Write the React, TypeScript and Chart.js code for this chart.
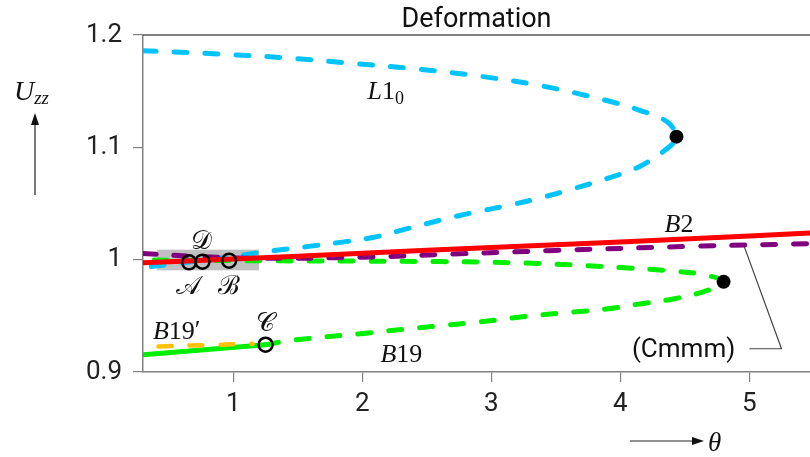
import React, { useEffect, useRef } from "react";
import { Chart, registerables } from "chart.js";

Chart.register(...registerables);

// ---------- data ----------
const chartTitle = "Deformation";
const xTicks = [1, 2, 3, 4, 5];
const yTicks = [0.9, 1, 1.1, 1.2];
const xMin = 0.3;
const xMax = 5.47;
const yMin = 0.9;
const yMax = 1.2;

// L1_0 branch (cyan), traced through its fold
const l10X = [0.3, 0.9, 1.4, 1.9, 2.4, 2.9, 3.4, 3.9, 4.15, 4.36, 4.435, 4.38, 4.15, 3.89, 3.63, 3.38, 3.12, 2.86, 2.6, 2.35, 2.09, 1.83, 1.57, 1.31, 1.0, 0.6, 0.3];
const l10Y = [1.186, 1.183, 1.1797, 1.175, 1.17, 1.1635, 1.1545, 1.1415, 1.133, 1.123, 1.1095, 1.1005, 1.083, 1.072, 1.063, 1.055, 1.048, 1.042, 1.035, 1.0276, 1.02, 1.0154, 1.0116, 1.008, 1.003, 0.997, 0.993];

// B2 (red, solid)
const b2X = [0.3, 1.0, 2.0, 3.0, 4.0, 5.0, 5.47];
const b2Y = [0.9972, 1.0005, 1.0058, 1.0108, 1.0158, 1.021, 1.0238];

// Cmmm (purple, dashed)
const cmmmX = [0.3, 0.7, 1.2, 2.0, 2.7, 3.5, 4.6, 5.47];
const cmmmY = [1.0055, 1.003, 1.0012, 1.0022, 1.005, 1.0082, 1.012, 1.0142];

// B19 stable part (green, solid)
const b19SolidX = [0.3, 0.8, 1.25];
const b19SolidY = [0.9154, 0.92, 0.9243];

// B19 unstable part (green, dashed) through its fold
const b19DashX = [1.25, 1.44, 2.09, 2.6, 2.86, 3.38, 3.89, 4.15, 4.41, 4.67, 4.8, 4.65, 4.4, 4.0, 3.5, 3.0, 2.6, 2.0, 1.3, 0.3];
const b19DashY = [0.9243, 0.928, 0.9353, 0.9412, 0.944, 0.9508, 0.956, 0.9606, 0.965, 0.9724, 0.9804, 0.9865, 0.99, 0.993, 0.996, 0.9977, 0.9983, 0.9987, 0.999, 0.9997];

// B19' (orange, dashed)
const b19pX = [0.42, 0.8, 1.15];
const b19pY = [0.9228, 0.924, 0.9252];

// special states A, D, B, C (open circles)
const stateX = [0.657, 0.761, 0.967, 1.25];
const stateY = [0.9976, 0.9982, 0.9991, 0.9243];

// fold points (filled dots)
const foldX = [4.435, 4.8];
const foldY = [1.1095, 0.9804];

// leader line of the (Cmmm) label
const leaderX = [5.0, 5.249, 4.955];
const leaderY = [0.9207, 0.9207, 1.0134];

// highlighted grey region
const box = { xMin: 0.41, xMax: 1.2, yMin: 0.9905, yMax: 1.0089 };

// ---------- styling ----------
const SANS = "Roboto, 'DejaVu Sans', sans-serif";
const SERIF = "'Liberation Serif', 'DejaVu Serif', serif";

type Part = { t: string; italic?: boolean; size?: number; dy?: number };

const mathLabels: { x: number; y: number; parts: Part[] }[] = [
  { x: 2.04, y: 1.1434, parts: [{ t: "L", italic: true }, { t: "1" }, { t: "0", size: 18, dy: 5 }] },
  { x: 4.343, y: 1.0243, parts: [{ t: "B", italic: true }, { t: "2" }] },
  { x: 2.14, y: 0.9086, parts: [{ t: "B", italic: true }, { t: "19" }] },
  { x: 0.377, y: 0.9297, parts: [{ t: "B", italic: true }, { t: "19" }, { t: "\u2032", dy: -1 }] },
];

const stateLabels = [
  { x: 0.655, y: 0.9697, t: "\u{1D49C}" },
  { x: 0.965, y: 0.9697, t: "\u212C" },
  { x: 1.25, y: 0.9368, t: "\u{1D49E}" },
  { x: 0.756, y: 1.0098, t: "\u{1D49F}" },
];

const cmmmLabel = { x: 4.09, y: 0.919, t: "(Cmmm)" };

const zip = (xs: number[], ys: number[]) => xs.map((x, i) => ({ x, y: ys[i] }));

function fontOf(p: Part) {
  return `${p.italic ? "italic " : ""}${p.size ?? 26}px ${SERIF}`;
}

function drawParts(ctx: CanvasRenderingContext2D, parts: Part[], x: number, y: number) {
  let cx = x;
  for (const p of parts) {
    ctx.font = fontOf(p);
    ctx.fillText(p.t, cx, y + (p.dy ?? 0));
    cx += ctx.measureText(p.t).width;
  }
}

const decor = {
  id: "decor",
  beforeDatasetsDraw(chart: any) {
    const { ctx, scales } = chart;
    const x = scales.x;
    const y = scales.y;
    const l = x.getPixelForValue(box.xMin);
    const r = x.getPixelForValue(box.xMax);
    const t = y.getPixelForValue(box.yMax);
    const b = y.getPixelForValue(box.yMin);
    ctx.save();
    ctx.fillStyle = "#c0c0c0";
    ctx.fillRect(l, t, r - l, b - t);
    ctx.restore();
  },
  afterDraw(chart: any) {
    const { ctx, chartArea: ca, scales } = chart;
    const x = scales.x;
    const y = scales.y;
    ctx.save();
    // top frame line
    ctx.strokeStyle = "#555";
    ctx.lineWidth = 1.5;
    ctx.beginPath();
    ctx.moveTo(ca.left, ca.top);
    ctx.lineTo(ca.right, ca.top);
    ctx.stroke();

    // title
    ctx.fillStyle = "#111";
    ctx.font = `27px ${SANS}`;
    ctx.textAlign = "center";
    ctx.textBaseline = "middle";
    ctx.fillText(chartTitle, (ca.left + ca.right) / 2, 20);

    // math labels
    ctx.textAlign = "left";
    ctx.textBaseline = "alphabetic";
    for (const m of mathLabels) {
      drawParts(ctx, m.parts, x.getPixelForValue(m.x), y.getPixelForValue(m.y));
    }
    // state labels
    ctx.textAlign = "center";
    ctx.font = `26px ${SERIF}`;
    for (const s of stateLabels) {
      ctx.fillText(s.t, x.getPixelForValue(s.x), y.getPixelForValue(s.y));
    }
    // (Cmmm)
    ctx.textAlign = "left";
    ctx.textBaseline = "middle";
    ctx.font = `26px ${SANS}`;
    ctx.fillText(cmmmLabel.t, x.getPixelForValue(cmmmLabel.x), y.getPixelForValue(cmmmLabel.y));

    // y axis title: U_zz with upward arrow
    ctx.textBaseline = "alphabetic";
    drawParts(ctx, [{ t: "U", italic: true, size: 28 }, { t: "zz", italic: true, size: 19, dy: 4 }], 14, 100);
    ctx.strokeStyle = "#222";
    ctx.fillStyle = "#111";
    ctx.lineWidth = 1.2;
    ctx.beginPath();
    ctx.moveTo(35, 195);
    ctx.lineTo(35, 120);
    ctx.stroke();
    ctx.beginPath();
    ctx.moveTo(35, 113);
    ctx.lineTo(31, 125);
    ctx.lineTo(39, 125);
    ctx.closePath();
    ctx.fill();

    // x axis title: arrow then theta
    ctx.beginPath();
    ctx.moveTo(630, 441);
    ctx.lineTo(695, 441);
    ctx.stroke();
    ctx.beginPath();
    ctx.moveTo(704, 441);
    ctx.lineTo(692, 437);
    ctx.lineTo(692, 445);
    ctx.closePath();
    ctx.fill();
    drawParts(ctx, [{ t: "\u03B8", italic: true, size: 27 }], 708, 451);
    ctx.restore();
  },
};

const dashed = {
  borderWidth: 5,
  borderDash: [13, 18],
  borderCapStyle: "round" as const,
  pointRadius: 0,
  showLine: true,
  tension: 0.35,
  fill: false,
};

export default function App() {
  const ref = useRef<HTMLCanvasElement>(null);
  useEffect(() => {
    const canvas = ref.current!;
    const chart = new Chart(canvas, {
      type: "scatter",
      data: {
        datasets: [
          {
            label: "states",
            data: zip(stateX, stateY),
            showLine: false,
            pointRadius: 7,
            pointBorderWidth: 2.5,
            pointBackgroundColor: "rgba(0,0,0,0)",
            pointBorderColor: "#000",
            order: 0,
          },
          {
            label: "folds",
            data: zip(foldX, foldY),
            showLine: false,
            pointRadius: 7,
            pointBorderWidth: 0,
            pointBackgroundColor: "#000",
            pointBorderColor: "#000",
            order: 0,
          },
          {
            label: "B2",
            data: zip(b2X, b2Y),
            showLine: true,
            borderColor: "#ff0000",
            borderWidth: 5,
            pointRadius: 0,
            tension: 0.3,
            order: 1,
          },
          { label: "Cmmm", data: zip(cmmmX, cmmmY), borderColor: "#800080", ...dashed, order: 2 },
          { label: "L1_0", data: zip(l10X, l10Y), borderColor: "#00c3ff", ...dashed, order: 3 },
          { label: "B19'", data: zip(b19pX, b19pY), borderColor: "#ffc000", ...dashed, borderWidth: 4.5, order: 4 },
          {
            label: "B19 stable",
            data: zip(b19SolidX, b19SolidY),
            showLine: true,
            borderColor: "#00ee00",
            borderWidth: 5,
            pointRadius: 0,
            order: 5,
          },
          { label: "B19", data: zip(b19DashX, b19DashY), borderColor: "#00ee00", ...dashed, order: 5 },
          {
            label: "leader",
            data: zip(leaderX, leaderY),
            showLine: true,
            borderColor: "#444",
            borderWidth: 1.2,
            pointRadius: 0,
            tension: 0,
            clip: false as any,
            order: 6,
          },
        ] as any,
      },
      options: {
        animation: false,
        responsive: false,
        events: [],
        layout: { autoPadding: false, padding: { top: 35, left: 0, right: 0, bottom: 0 } },
        plugins: {
          legend: { display: false },
          tooltip: { enabled: false },
          title: { display: false },
        },
        scales: {
          x: {
            type: "linear",
            min: xMin,
            max: xMax,
            afterBuildTicks: (s: any) => {
              s.ticks = xTicks.map((v) => ({ value: v }));
            },
            afterFit: (s: any) => {
              s.height = 85;
              s.paddingLeft = 0;
              s.paddingRight = 0;
            },
            grid: { drawOnChartArea: false, drawTicks: true, tickLength: 10, color: "#808080", lineWidth: 1.2 },
            border: { display: true, color: "#808080", width: 1.5 },
            ticks: {
              font: { family: SANS, size: 26 },
              color: "#222",
              padding: 7,
              maxRotation: 0,
              autoSkip: false,
              callback: (v: any) => String(v),
            },
          },
          y: {
            type: "linear",
            min: yMin,
            max: yMax,
            afterBuildTicks: (s: any) => {
              s.ticks = yTicks.map((v) => ({ value: v }));
            },
            afterFit: (s: any) => {
              s.width = 143;
              s.paddingTop = 0;
              s.paddingBottom = 0;
            },
            grid: { drawOnChartArea: false, drawTicks: true, tickLength: 10, color: "#808080", lineWidth: 1.2 },
            border: { display: true, color: "#808080", width: 1.5 },
            ticks: {
              font: { family: SANS, size: 26 },
              color: "#222",
              padding: 11,
              autoSkip: false,
              callback: (v: any) => String(v),
            },
          },
        },
      },
      plugins: [decor as any],
    });
    return () => chart.destroy();
  }, []);
  return (
    <div style={{ position: "absolute", left: 0, top: 0, width: 810, height: 457, background: "#fff" }}>
      <canvas ref={ref} width={810} height={457} style={{ width: 810, height: 457, display: "block" }} />
    </div>
  );
}
